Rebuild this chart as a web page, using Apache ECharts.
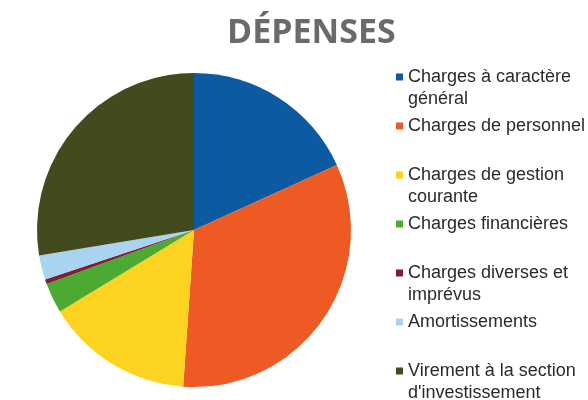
<!DOCTYPE html>
<html>
<head>
<meta charset="utf-8">
<script src="https://cdn.jsdelivr.net/npm/echarts@6/dist/echarts.min.js"></script>
<style>
  html, body { margin: 0; padding: 0; background: #ffffff; }
  #chart { width: 588px; height: 400px; }
</style>
</head>
<body>
<div id="chart"></div>
<script>
const titleText = 'DÉPENSES';
const categories = [
  'Charges à caractère général',
  'Charges de personnel',
  'Charges de gestion courante',
  'Charges financières',
  'Charges diverses et imprévus',
  'Amortissements',
  "Virement à la section d'investissement"
];
const legendLines = [
  ['Charges à caractère', 'général'],
  ['Charges de personnel'],
  ['Charges de gestion', 'courante'],
  ['Charges financières'],
  ['Charges diverses et', 'imprévus'],
  ['Amortissements'],
  ['Virement à la section', "d'investissement"]
];
const values = [18.2, 32.9, 15.2, 3.1, 0.5, 2.5, 27.6];
const colors = ['#0c5aa2', '#ee5a24', '#fdd322', '#4caa32', '#7e1f3a', '#a8d4f0', '#434a1e'];

const rich = {
  t: { fontFamily: 'Liberation Sans', fontSize: 18, lineHeight: 22, color: '#2a2a2a', padding: [0, 0, 0, 5] },
  s: { width: 7, height: 7, lineHeight: 22 }
};
colors.forEach((c, i) => {
  rich['m' + i] = { width: 7, height: 7, lineHeight: 22, backgroundColor: c };
});

const chart = echarts.init(document.getElementById('chart'), null, { renderer: 'canvas' });
chart.setOption({
  animation: false,
  backgroundColor: '#ffffff',
  title: {
    text: titleText,
    left: 227,
    top: 16,
    padding: 0,
    textStyle: { fontFamily: 'Open Sans', fontWeight: 'bold', fontSize: 34, color: '#6a6a6a' }
  },
  legend: {
    orient: 'vertical',
    left: 391,
    top: 66,
    width: 197,
    height: 360,
    padding: 0,
    itemGap: 5,
    icon: 'none',
    itemWidth: 0,
    itemHeight: 7,
    selectedMode: false,
    data: categories,
    textStyle: { fontFamily: 'Liberation Sans', fontSize: 18, lineHeight: 22, color: '#2a2a2a', rich: rich },
    formatter: function (name) {
      const i = categories.indexOf(name);
      const lines = legendLines[i];
      let s = '{m' + i + '|}{t|' + lines[0] + '}\n{s|}';
      if (lines[1]) s += '{t|' + lines[1] + '}';
      return s;
    }
  },
  series: [{
    type: 'pie',
    center: [194, 230],
    radius: [0, 157],
    startAngle: 90,
    clockwise: true,
    silent: true,
    label: { show: false },
    labelLine: { show: false },
    itemStyle: { borderWidth: 0 },
    data: categories.map((n, i) => ({ name: n, value: values[i], itemStyle: { color: colors[i] } }))
  }]
});
</script>
</body>
</html>
